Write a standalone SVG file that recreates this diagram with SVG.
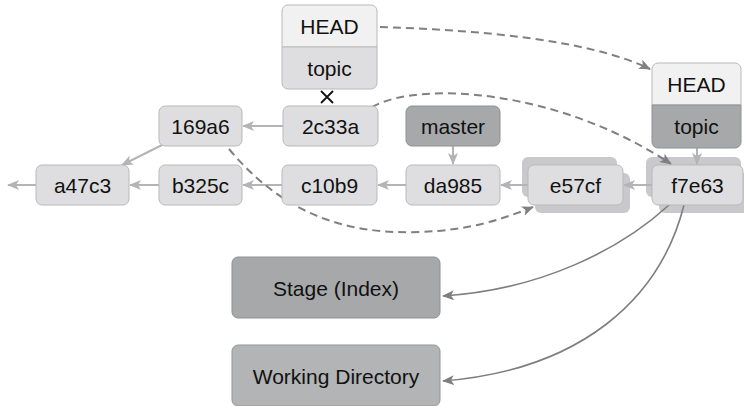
<svg xmlns="http://www.w3.org/2000/svg" width="744" height="406" viewBox="0 0 744 406">
<defs>
<style>
.n{fill:#dedee0;stroke:#b9b9bb;stroke-width:1}
.h{fill:#f1f1f1;stroke:#b9b9bb;stroke-width:1}
.d{fill:#a7a8aa;stroke:#8f9092;stroke-width:1}
.w{fill:#b2b4b6;stroke:#939597;stroke-width:1}
.s{fill:#c9c9cb;stroke:none}
text{font-family:"Liberation Sans",Arial,sans-serif;font-size:21px;fill:#111;text-anchor:middle;dominant-baseline:central}
.c{fill:none;stroke:#b4b4b6;stroke-width:2}
.dash{fill:none;stroke:#808082;stroke-width:2;stroke-dasharray:8,5}
.sol{fill:none;stroke:#7e7e80;stroke-width:1.6}
</style>
<marker id="a" viewBox="0 0 12 10" refX="11" refY="5" markerWidth="12" markerHeight="10" markerUnits="userSpaceOnUse" orient="auto">
<path d="M0,0 L12,5 L0,10 L3,5 Z" fill="#b4b4b6"/>
</marker>
<marker id="ad" viewBox="0 0 12 10" refX="11" refY="5" markerWidth="12" markerHeight="10" markerUnits="userSpaceOnUse" orient="auto">
<path d="M0,0 L12,5 L0,10 L3,5 Z" fill="#808082"/>
</marker>
<marker id="as" viewBox="0 0 12 10" refX="11" refY="5" markerWidth="12" markerHeight="10" markerUnits="userSpaceOnUse" orient="auto">
<path d="M0,0 L12,5 L0,10 L3,5 Z" fill="#7e7e80"/>
</marker>
</defs>
<g id="shadows">
<rect class="s" x="522" y="157" width="95" height="40" rx="6"/>
<rect class="s" x="535" y="173" width="95" height="40" rx="6"/>
<rect class="s" x="646" y="157" width="95" height="40" rx="6"/>
<rect class="s" x="659" y="173" width="95" height="40" rx="6"/>
</g>
<g id="connectors">
<line class="c" x1="36" y1="185" x2="8" y2="185" marker-end="url(#a)"/>
<line class="c" x1="159" y1="185" x2="130" y2="185" marker-end="url(#a)"/>
<line class="c" x1="164" y1="144" x2="122" y2="165" marker-end="url(#a)"/>
<line class="c" x1="283" y1="126" x2="243" y2="126" marker-end="url(#a)"/>
<line class="c" x1="282" y1="185" x2="243" y2="185" marker-end="url(#a)"/>
<line class="c" x1="406" y1="185" x2="378" y2="185" marker-end="url(#a)"/>
<line class="c" x1="528" y1="185" x2="501" y2="185" marker-end="url(#a)"/>
<line class="c" x1="652" y1="185" x2="624" y2="185" marker-end="url(#a)"/>
<line class="c" x1="453" y1="146" x2="453" y2="164" marker-end="url(#a)"/>
<line class="c" x1="697" y1="148" x2="697" y2="164" marker-end="url(#a)"/>
<path class="dash" d="M380,27 C480,30 590,40 650,69" marker-end="url(#ad)"/>
<path class="dash" d="M372,107 C420,80 560,90 671,164" marker-end="url(#ad)"/>
<path class="dash" d="M229,149 C280,210 340,235 420,232 C470,230 500,220 533,207" marker-end="url(#ad)"/>
<path class="sol" d="M669,205 C620,250 540,290 443,296" marker-end="url(#as)"/>
<path class="sol" d="M684,205 C660,300 580,370 443,381" marker-end="url(#as)"/>
<path d="M321,91 L333,103 M333,91 L321,103" stroke="#111" stroke-width="1.8"/>
</g>
<g id="head1">
<path class="h" d="M282,47 V11 a6,6 0 0 1 6,-6 H371 a6,6 0 0 1 6,6 V47 Z"/>
<text x="329.5" y="26">HEAD</text>
</g>
<g id="topic1">
<path class="n" d="M282,47 H377 V83 a6,6 0 0 1 -6,6 H288 a6,6 0 0 1 -6,-6 Z"/>
<text x="329.5" y="68">topic</text>
</g>
<g id="head2">
<path class="h" d="M652,105 V69 a6,6 0 0 1 6,-6 H735 a6,6 0 0 1 6,6 V105 Z"/>
<text x="696.5" y="84">HEAD</text>
</g>
<g id="topic2">
<path class="d" d="M652,105 H741 V142 a6,6 0 0 1 -6,6 H658 a6,6 0 0 1 -6,-6 Z"/>
<text x="696.5" y="126">topic</text>
</g>
<g id="n169a6"><rect class="n" x="159" y="106" width="83" height="40" rx="6"/><text x="200.5" y="126">169a6</text></g>
<g id="n2c33a"><rect class="n" x="283" y="106" width="95" height="40" rx="6"/><text x="330.5" y="126">2c33a</text></g>
<g id="master"><rect class="d" x="406" y="106" width="94" height="40" rx="6"/><text x="453" y="126">master</text></g>
<g id="a47c3"><rect class="n" x="36" y="165" width="93" height="40" rx="6"/><text x="82.5" y="185">a47c3</text></g>
<g id="b325c"><rect class="n" x="159" y="165" width="83" height="40" rx="6"/><text x="200.5" y="185">b325c</text></g>
<g id="c10b9"><rect class="n" x="282" y="165" width="95" height="40" rx="6"/><text x="329.5" y="185">c10b9</text></g>
<g id="da985"><rect class="n" x="406" y="165" width="94" height="40" rx="6"/><text x="453" y="185">da985</text></g>
<g id="e57cf"><rect class="n" x="528" y="165" width="95" height="40" rx="6"/><text x="575.5" y="185">e57cf</text></g>
<g id="f7e63"><rect class="n" x="652" y="165" width="91" height="40" rx="6"/><text x="697.5" y="185">f7e63</text></g>
<g id="stage"><rect class="d" x="232" y="257" width="208" height="61" rx="6"/><text x="336" y="288">Stage (Index)</text></g>
<g id="workdir"><rect class="w" x="232" y="345" width="208" height="61" rx="6"/><text x="336" y="376">Working Directory</text></g>
</svg>
